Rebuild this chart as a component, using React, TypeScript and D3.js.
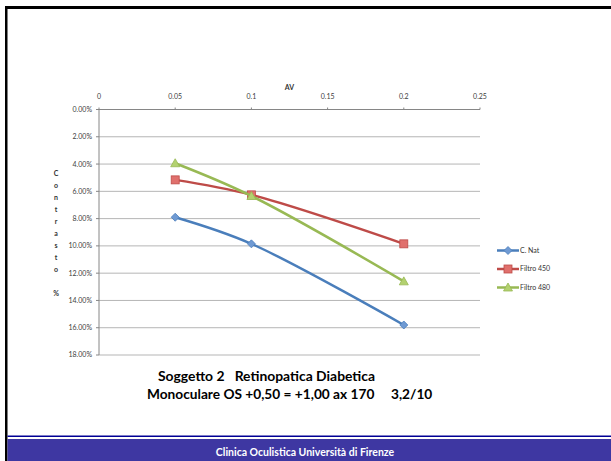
import * as d3 from 'd3';

const xTicks = [0, 0.05, 0.1, 0.15, 0.2, 0.25]
const yTicks = [0, 0.02, 0.04, 0.06, 0.08, 0.1, 0.12, 0.14, 0.16, 0.18]
const av = [0.05, 0.1, 0.2]
const cNat = [0.079, 0.0985, 0.158]
const filtro450 = [0.0516, 0.0626, 0.0985]
const filtro480 = [0.0394, 0.0634, 0.126]
const seriesNames = ['C. Nat', 'Filtro 450', 'Filtro 480']
const yTitle = ['C', 'o', 'n', 't', 'r', 'a', 's', 't', 'o', '', '%']

const W = 611
const H = 461
const plot = { left: 99, right: 480, top: 109.5, bottom: 355 }

const colors = ['#4a7ebb', '#be4b48', '#98b954']
const fills = ['#6f9ad3', '#e0706d', '#b3d16f']
const font = 'Lato, "Noto Sans", sans-serif'

const x = d3.scaleLinear().domain([0, 0.25]).range([plot.left, plot.right])
const y = d3.scaleLinear().domain([0, 0.18]).range([plot.top, plot.bottom])

const line = d3.line<number>()
  .x((_, i) => x(av[i]))
  .y(d => y(d))
  .curve(d3.curveCatmullRom.alpha(0.5))

const Marker = ({ kind, cx, cy }: { kind: number, cx: number, cy: number }) => {
  if (kind === 0) {
    const r = 4
    return <path d={`M${cx},${cy - r}L${cx + r},${cy}L${cx},${cy + r}L${cx - r},${cy}Z`} fill={fills[0]} stroke={colors[0]} strokeWidth={0.8} />
  }
  if (kind === 1) {
    return <rect x={cx - 4} y={cy - 4} width={8} height={8} fill={fills[1]} stroke={colors[1]} strokeWidth={0.8} />
  }
  return <path d={`M${cx},${cy - 4.5}L${cx + 4.5},${cy + 3.5}L${cx - 4.5},${cy + 3.5}Z`} fill={fills[2]} stroke={colors[2]} strokeWidth={0.8} />
}

export default function App() {
  const series = [cNat, filtro450, filtro480]
  const legendY = [250.5, 269, 287.5]
  return (
    <svg width={W} height={H} style={{ position: 'absolute', left: 0, top: 0, background: '#fff' }} fontFamily={font}>
      {/* slide frame */}
      <rect x={5} y={6} width={W - 5} height={3} fill="#000" />
      <rect x={5} y={6} width={2.5} height={H - 6} fill="#000" />
      <rect x={7.5} y={435.5} width={W} height={1.5} fill="#000094" />
      <rect x={7.5} y={439} width={W} height={H - 439} fill="#3e37a2" />
      <text x={305} y={455.5} textAnchor="middle" fill="#fff" fontWeight="bold" fontSize={10.5}>
        Clinica Oculistica Università di Firenze
      </text>

      {/* gridlines */}
      {yTicks.map(t => (
        <line key={t} x1={plot.left} x2={plot.right} y1={y(t)} y2={y(t)}
          stroke={t === 0 ? '#868686' : '#b5b5b5'} strokeWidth={1} />
      ))}
      <line x1={plot.left} x2={plot.left} y1={plot.top} y2={plot.bottom} stroke="#868686" />
      {yTicks.map(t => (
        <g key={'yl' + t}>
          <line x1={plot.left - 3} x2={plot.left} y1={y(t)} y2={y(t)} stroke="#868686" />
          <text x={92} y={y(t)} dy="0.35em" textAnchor="end" fontSize={7} fill="#404040">
            {(t * 100).toFixed(2) + '%'}
          </text>
        </g>
      ))}
      {xTicks.map(t => (
        <g key={'xl' + t}>
          <line x1={x(t)} x2={x(t)} y1={plot.top - 2} y2={plot.top} stroke="#868686" />
          <text x={x(t)} y={99} textAnchor="middle" fontSize={7} fill="#404040">{String(t)}</text>
        </g>
      ))}
      <text x={(plot.left + plot.right) / 2} y={89.5} textAnchor="middle" fontSize={7} fontWeight="bold" fill="#333">AV</text>
      {yTitle.map((c, i) => (
        <text key={'yt' + i} x={56} y={174 + i * 12} dy="0.35em" textAnchor="middle" fontSize={7} fontWeight="bold" fill="#333">{c}</text>
      ))}

      {/* series */}
      {series.map((s, k) => (
        <g key={'s' + k}>
          <path d={line(s) ?? ''} fill="none" stroke={colors[k]} strokeWidth={2.5} />
          {s.map((v, i) => <Marker key={i} kind={k} cx={x(av[i])} cy={y(v)} />)}
        </g>
      ))}

      {/* legend */}
      {seriesNames.map((n, k) => (
        <g key={'lg' + k}>
          <line x1={497} x2={519} y1={legendY[k]} y2={legendY[k]} stroke={colors[k]} strokeWidth={2.5} />
          <Marker kind={k} cx={508} cy={legendY[k]} />
          <text x={520} y={legendY[k]} dy="0.35em" fontSize={7} fill="#333">{n}</text>
        </g>
      ))}

      {/* caption */}
      <text x={158} y={381} fontSize={13.9} fontWeight="bold" fill="#000" style={{ whiteSpace: 'pre' }}>
        {'Soggetto 2   Retinopatica Diabetica'}
      </text>
      <text x={147} y={399} fontSize={13.7} fontWeight="bold" fill="#000" style={{ whiteSpace: 'pre' }}>
        {'Monoculare OS +0,50 = +1,00 ax 170     3,2/10'}
      </text>
    </svg>
  )
}
